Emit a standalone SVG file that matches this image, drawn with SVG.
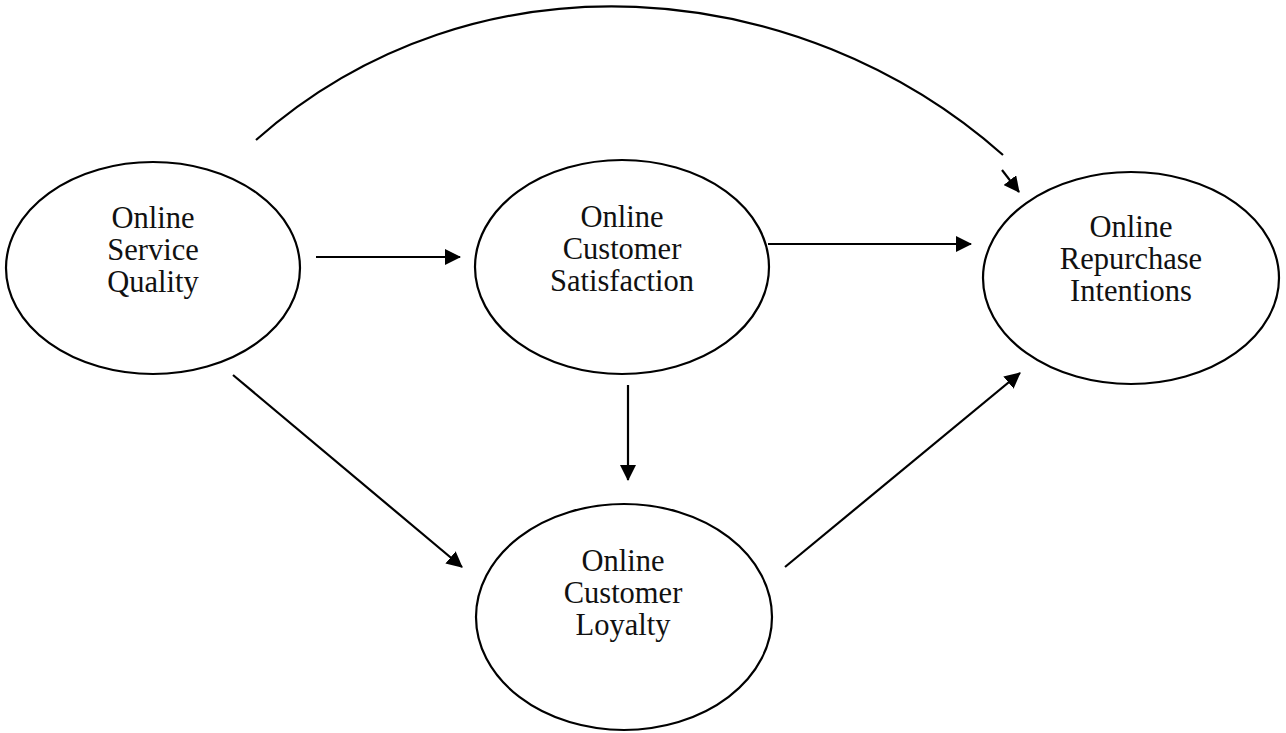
<svg xmlns="http://www.w3.org/2000/svg" width="1286" height="733" viewBox="0 0 1286 733">
<style>
.node ellipse{fill:none;stroke:#000;stroke-width:2.2}
.node text{font-family:"Liberation Serif","Times New Roman",serif;font-size:30.5px;fill:#111;text-anchor:middle}
.edge{fill:none;stroke:#000;stroke-width:2.2}
</style>
<defs>
<marker id="arr" markerWidth="16" markerHeight="16" refX="15" refY="8" orient="auto" markerUnits="userSpaceOnUse">
<path d="M0,0 L16,8 L0,16 Z" fill="#000"/>
</marker>
</defs>
<rect width="1286" height="733" fill="#fff"/>
<g id="n-quality" class="node">
<ellipse cx="153" cy="268" rx="147" ry="106"/>
<text x="153" y="228">Online</text>
<text x="153" y="260">Service</text>
<text x="153" y="292">Quality</text>
</g>
<g id="n-satisfaction" class="node">
<ellipse cx="622" cy="267" rx="147" ry="107"/>
<text x="622" y="227">Online</text>
<text x="622" y="259">Customer</text>
<text x="622" y="291">Satisfaction</text>
</g>
<g id="n-repurchase" class="node">
<ellipse cx="1131" cy="278" rx="148" ry="106"/>
<text x="1131" y="237">Online</text>
<text x="1131" y="269">Repurchase</text>
<text x="1131" y="301">Intentions</text>
</g>
<g id="n-loyalty" class="node">
<ellipse cx="624" cy="617" rx="148" ry="113"/>
<text x="623" y="571">Online</text>
<text x="623" y="603">Customer</text>
<text x="623" y="635">Loyalty</text>
</g>
<g id="connectors">
<line class="edge" x1="316" y1="257" x2="460" y2="257" marker-end="url(#arr)"/>
<line class="edge" x1="768" y1="244" x2="971" y2="244" marker-end="url(#arr)"/>
<line class="edge" x1="628" y1="385" x2="628" y2="480" marker-end="url(#arr)"/>
<line class="edge" x1="233" y1="375" x2="462" y2="567" marker-end="url(#arr)"/>
<line class="edge" x1="785" y1="567" x2="1020" y2="373" marker-end="url(#arr)"/>
<path class="edge" d="M256,140 C476,-55 800,-25 1003,155"/>
<line class="edge" x1="1002" y1="170" x2="1019" y2="192" marker-end="url(#arr)"/>
</g>
</svg>
